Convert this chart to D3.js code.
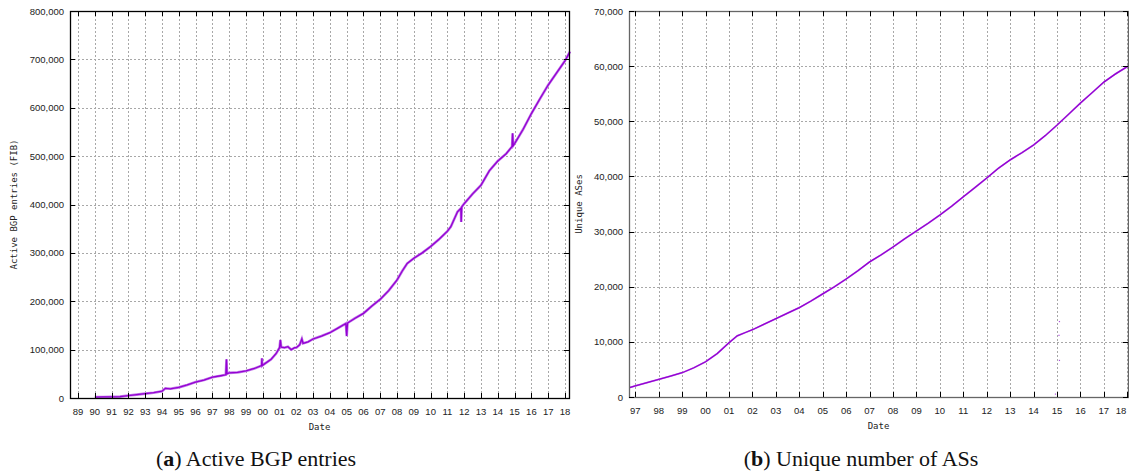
<!DOCTYPE html>
<html>
<head>
<meta charset="utf-8">
<script src="https://cdn.jsdelivr.net/npm/d3@7"></script>
<style>
  body { margin: 0; background: #fff; }
  .tick-label { font-family: "Liberation Sans", Arial, sans-serif; font-size: 9.5px; fill: #222; }
  .axis-title { font-family: "DejaVu Sans Mono", monospace; font-size: 9px; fill: #222; }
  .caption { font-family: "Liberation Serif", "Times New Roman", serif; font-size: 22px; fill: #111; }
</style>
</head>
<body>
<svg id="chart" width="1129" height="474"></svg>
<script>
// panel (a): active BGP entries, year as decimal
var bgpDates = [1990.0, 1990.5, 1991.0, 1991.5, 1992.0, 1992.5, 1993.0, 1993.5, 1994.0, 1994.2,
  1994.5, 1995.0, 1995.5, 1996.0, 1996.5, 1997.0, 1997.5, 1997.8, 1997.84, 1997.87,
  1998.0, 1998.5, 1999.0, 1999.5, 1999.93, 1999.95, 1999.97, 2000.0, 2000.5, 2000.8,
  2001.0, 2001.05, 2001.1, 2001.3, 2001.5, 2001.7, 2001.9, 2002.0, 2002.2, 2002.33,
  2002.4, 2002.7, 2003.0, 2003.5, 2004.0, 2004.5, 2004.95, 2005.0, 2005.05, 2005.5,
  2006.0, 2006.5, 2007.0, 2007.5, 2008.0, 2008.3, 2008.6, 2009.0, 2009.5, 2010.0,
  2010.5, 2011.0, 2011.2, 2011.6, 2011.8, 2011.82, 2011.85, 2012.0, 2012.5, 2013.0,
  2013.5, 2014.0, 2014.5, 2014.85, 2014.88, 2014.92, 2015.0, 2015.5, 2016.0, 2016.5,
  2017.0, 2017.5, 2018.0, 2018.3];
var bgpValues = [2000, 2200, 2500, 2800, 5000, 7000, 9000, 11000, 14000, 20000,
  19000, 22000, 27000, 33000, 37000, 43000, 46000, 48000, 80000, 50000,
  52000, 53000, 56000, 61000, 67000, 82000, 67000, 68000, 80000, 92000,
  104000, 120000, 105000, 104000, 106000, 100000, 104000, 104000, 110000, 122000,
  113000, 116000, 122000, 128000, 135000, 145000, 154000, 128000, 155000, 165000,
  175000, 190000, 204000, 222000, 244000, 262000, 278000, 289000, 300000, 313000,
  328000, 345000, 354000, 385000, 392000, 364000, 395000, 402000, 422000, 440000,
  470000, 490000, 505000, 520000, 547000, 522000, 526000, 555000, 588000, 618000,
  647000, 672000, 697000, 716000];
var bgpYTicks = [0, 100000, 200000, 300000, 400000, 500000, 600000, 700000, 800000];
var bgpXTicks = d3.range(1989, 2019);

// panel (b): unique number of ASes
var asDates = [1996.75, 1997.0, 1997.5, 1998.0, 1998.5, 1999.0, 1999.5, 2000.0, 2000.5, 2001.0,
  2001.35, 2001.7, 2002.0, 2002.5, 2003.0, 2003.5, 2004.0, 2004.5, 2005.0, 2005.5,
  2006.0, 2006.5, 2007.0, 2007.5, 2008.0, 2008.5, 2009.0, 2009.5, 2010.0, 2010.5,
  2011.0, 2011.5, 2012.0, 2012.5, 2013.0, 2013.5, 2014.0, 2014.5, 2015.0, 2015.5,
  2016.0, 2016.5, 2017.0, 2017.5, 2018.03];
var asValues = [1700, 2000, 2600, 3200, 3800, 4400, 5300, 6400, 7900, 9850,
  11100, 11700, 12200, 13200, 14200, 15200, 16200, 17400, 18700, 20000,
  21400, 22900, 24500, 25800, 27200, 28700, 30100, 31500, 33000, 34600,
  36300, 38000, 39700, 41500, 43000, 44300, 45700, 47400, 49300, 51300,
  53300, 55200, 57100, 58600, 60000];
var asOutlierDates = [2015.1, 2015.08, 2015.1, 2014.93];
var asOutlierValues = [13700, 11200, 6650, 540];
var asYTicks = [0, 10000, 20000, 30000, 40000, 50000, 60000, 70000];
var asXTicks = d3.range(1997, 2019);

var svg = d3.select("#chart");
var fmtY = d3.format(",");
var fmtYear = function(d) { return String(d % 100).padStart(2, "0"); };

function drawPanel(p) {
  var x = d3.scaleLinear().domain(p.xDomain).range([p.left, p.right]);
  var y = d3.scaleLinear().domain(p.yDomain).range([p.bottom, p.top]);
  var g = svg.append("g");

  // grid
  g.selectAll(".vgrid").data(p.xTicks).enter().append("line")
    .attr("x1", function(d) { return Math.round(x(d)) + 0.5; })
    .attr("x2", function(d) { return Math.round(x(d)) + 0.5; })
    .attr("y1", p.top).attr("y2", p.bottom)
    .attr("stroke", "#a8a8a8").attr("stroke-dasharray", "2,2");
  g.selectAll(".hgrid").data(p.yTicks.slice(1, -1)).enter().append("line")
    .attr("y1", function(d) { return Math.round(y(d)) + 0.5; })
    .attr("y2", function(d) { return Math.round(y(d)) + 0.5; })
    .attr("x1", p.left).attr("x2", p.right)
    .attr("stroke", "#a8a8a8").attr("stroke-dasharray", "2,2");

  // series
  var pts = p.dates.map(function(d, i) { return [d, p.values[i]]; });
  var line = d3.line().x(function(d) { return x(d[0]); }).y(function(d) { return y(d[1]); });
  g.append("path").datum(pts).attr("d", line)
    .attr("fill", "none").attr("stroke", "#c27ae8").attr("stroke-width", p.haloWidth);
  g.append("path").datum(pts).attr("d", line)
    .attr("fill", "none").attr("stroke", "#9400d3").attr("stroke-width", 1.3);

  if (p.outDates) {
    g.selectAll(".out").data(p.outDates).enter().append("rect")
      .attr("x", function(d) { return x(d) - 0.5; })
      .attr("y", function(d, i) { return y(p.outValues[i]) - 0.5; })
      .attr("width", 1.2).attr("height", 1.2).attr("fill", "#b050e0");
  }

  // border
  g.append("rect").attr("x", p.left + 0.5).attr("y", p.top + 0.5)
    .attr("width", p.right - p.left).attr("height", p.bottom - p.top)
    .attr("fill", "none").attr("stroke", p.border).attr("stroke-width", 1.3);

  // ticks
  g.selectAll(".xt").data(p.xTicks).enter().append("path")
    .attr("d", function(d) {
      var xx = Math.round(x(d)) + 0.5;
      return "M" + xx + "," + p.bottom + "v-5M" + xx + "," + p.top + "v5";
    })
    .attr("stroke", "#000");
  g.selectAll(".yt").data(p.yTicks).enter().append("path")
    .attr("d", function(d) {
      var yy = Math.round(y(d)) + 0.5;
      return "M" + p.left + "," + yy + "h5M" + p.right + "," + yy + "h-5";
    })
    .attr("stroke", "#000");

  // tick labels (last one kept inside the page)
  g.selectAll(".xl").data(p.xTicks).enter().append("text")
    .attr("class", "tick-label")
    .attr("x", function(d) { return Math.min(x(d), 1121); }).attr("y", p.bottom + 17)
    .attr("text-anchor", "middle").text(fmtYear);
  g.selectAll(".yl").data(p.yTicks).enter().append("text")
    .attr("class", "tick-label")
    .attr("x", p.left - 6).attr("y", function(d) { return y(d) + 3.5; })
    .attr("text-anchor", "end").text(fmtY);

  // titles
  g.append("text").attr("class", "axis-title")
    .attr("x", (p.left + p.right) / 2).attr("y", p.bottom + 32)
    .attr("text-anchor", "middle").text("Date");
  g.append("text").attr("class", "axis-title")
    .attr("transform", "translate(" + p.yTitleX + "," + ((p.top + p.bottom) / 2) + ") rotate(-90)")
    .attr("text-anchor", "middle").text(p.yTitle);

  // caption
  var cap = g.append("text").attr("class", "caption")
    .attr("x", p.capX).attr("y", 466).attr("text-anchor", "middle");
  cap.append("tspan").text("(");
  cap.append("tspan").attr("font-weight", "bold").text(p.capLetter);
  cap.append("tspan").text(") " + p.caption);
}

drawPanel({
  left: 70, right: 569, top: 11, bottom: 398,
  xDomain: [1988.52, 2018.24], yDomain: [0, 800000],
  xTicks: bgpXTicks, yTicks: bgpYTicks,
  dates: bgpDates, values: bgpValues, haloWidth: 2.6,
  border: "#000", yTitleX: 17, yTitle: "Active BGP entries (FIB)",
  capX: 256, capLetter: "a", caption: "Active BGP entries"
});

drawPanel({
  left: 629, right: 1128, top: 11, bottom: 397,
  xDomain: [1996.73, 2018.03], yDomain: [0, 70000],
  xTicks: asXTicks, yTicks: asYTicks,
  dates: asDates, values: asValues, haloWidth: 1.8,
  outDates: asOutlierDates, outValues: asOutlierValues,
  border: "#666", yTitleX: 582, yTitle: "Unique ASes",
  capX: 861, capLetter: "b", caption: "Unique number of ASs"
});
</script>
</body>
</html>
